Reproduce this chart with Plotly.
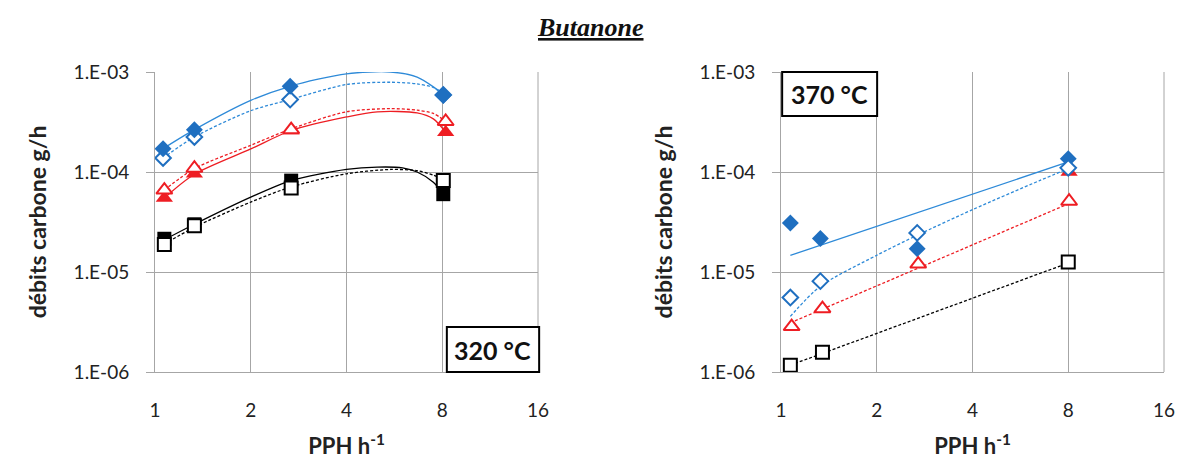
import plotly.graph_objects as go

# ---------------- data : 320 °C (left panel) ----------------
x320_fd = [1.06, 1.33, 2.66, 8.06]
y320_fd = [1.71e-4, 2.65e-4, 7.2e-4, 5.85e-4]          # filled diamond
x320_od = [1.06, 1.33, 2.66, 8.06]
y320_od = [1.38e-4, 2.24e-4, 5.3e-4, 5.9e-4]           # open diamond
x320_ft = [1.07, 1.33, 2.68, 8.2]
y320_ft = [5.5e-5, 9.6e-5, 2.6e-4, 2.5e-4]             # filled triangle
x320_ot = [1.07, 1.33, 2.68, 8.2]
y320_ot = [6.6e-5, 1.09e-4, 2.65e-4, 3.2e-4]           # open triangle
x320_fs = [1.07, 1.33, 2.68, 8.06]
y320_fs = [2.15e-5, 3.0e-5, 8.2e-5, 6.0e-5]            # filled square
x320_os = [1.07, 1.33, 2.68, 8.06]
y320_os = [1.88e-5, 2.9e-5, 6.9e-5, 8.2e-5]            # open square

# trend curves (320 °C)
xc_fd = [1.06, 1.33, 2.0, 2.66, 4.0, 5.5, 6.67, 7.5, 8.06]
yc_fd = [1.71e-4, 2.65e-4, 5.2e-4, 7.2e-4, 9.6e-4, 1.0e-3, 8.9e-4, 7.1e-4, 5.85e-4]
xc_od = [1.06, 1.33, 2.0, 2.66, 4.0, 5.5, 6.67, 7.5, 8.06]
yc_od = [1.38e-4, 2.24e-4, 4.1e-4, 5.3e-4, 7.5e-4, 7.9e-4, 7.6e-4, 7.0e-4, 6.2e-4]
xc_ft = [1.07, 1.33, 2.0, 2.68, 4.0, 5.0, 6.67, 7.5, 8.2]
yc_ft = [5.5e-5, 9.5e-5, 1.7e-4, 2.6e-4, 3.55e-4, 4.0e-4, 3.9e-4, 3.4e-4, 2.5e-4]
xc_ot = [1.07, 1.33, 2.0, 2.68, 4.0, 5.5, 6.67, 7.5, 8.2]
yc_ot = [6.6e-5, 1.08e-4, 1.85e-4, 2.7e-4, 4.0e-4, 4.3e-4, 4.15e-4, 3.85e-4, 3.2e-4]
xc_fs = [1.07, 1.33, 2.0, 2.68, 4.0, 5.0, 6.0, 6.67, 7.5, 8.06]
yc_fs = [2.1e-5, 3.0e-5, 5.6e-5, 8.2e-5, 1.06e-4, 1.12e-4, 1.1e-4, 1.0e-4, 7.9e-5, 6.0e-5]
xc_os = [1.07, 1.33, 2.0, 2.68, 4.0, 5.5, 6.67, 7.5, 8.1]
yc_os = [1.9e-5, 2.8e-5, 5.0e-5, 7.1e-5, 9.6e-5, 1.06e-4, 1.03e-4, 9.3e-5, 8.2e-5]

# ---------------- data : 370 °C (right panel) ----------------
x370_fd = [1.07, 1.33, 2.68, 8.0]
y370_fd = [3.09e-5, 2.16e-5, 1.71e-5, 1.36e-4]
x370_od = [1.07, 1.33, 2.68, 8.0]
y370_od = [5.55e-6, 8.1e-6, 2.46e-5, 1.1e-4]
x370_ft = [8.05]
y370_ft = [1.0e-4]
x370_ot = [1.08, 1.35, 2.7, 8.05]
y370_ot = [2.85e-6, 4.3e-6, 1.2e-5, 5.1e-5]
x370_os = [1.07, 1.35, 8.0]
y370_os = [1.17e-6, 1.58e-6, 1.26e-5]

xl_fd = [1.07, 8.0]
yl_fd = [1.47e-5, 1.26e-4]
xl_od = [1.07, 1.33, 2.0, 2.68, 4.0, 6.5, 8.0]
yl_od = [3.6e-6, 7.2e-6, 1.47e-5, 2.33e-5, 4.2e-5, 8.2e-5, 1.08e-4]
xl_ot = [1.07, 8.0]
yl_ot = [3.1e-6, 4.8e-5]
xl_os = [1.07, 8.0]
yl_os = [1.17e-6, 1.23e-5]

x_ticks = [1, 2, 4, 8, 16]
y_ticks = [1e-6, 1e-5, 1e-4, 1e-3]
y_ticktext = ["1.E-06", "1.E-05", "1.E-04", "1.E-03"]

BLUE_M = "#1F6FC0"
BLUE_L = "#2E8AD8"
RED = "#EE1D23"
BLACK = "#000000"
GRID = "#A6A6A6"
FONT = "Lato"

W, H = 1181, 459

fig = go.Figure()


def curve(xs, ys, color, dashed, xa, ya, smooth=True):
    fig.add_trace(go.Scatter(
        x=xs, y=ys, mode="lines", xaxis=xa, yaxis=ya, showlegend=False,
        line=dict(color=color, width=1.3, dash="3px,2px" if dashed else "solid",
                  shape="spline" if smooth else "linear", smoothing=0.8),
        hoverinfo="skip"))


def marks(xs, ys, symbol, size, color, filled, xa, ya):
    fig.add_trace(go.Scatter(
        x=xs, y=ys, mode="markers", xaxis=xa, yaxis=ya, showlegend=False,
        cliponaxis=False,
        marker=dict(symbol=symbol, size=size,
                    color=color if filled else "white",
                    line=dict(color=color, width=0 if filled else 2))))


# left panel curves
curve(xc_fd, yc_fd, BLUE_L, False, "x", "y")
curve(xc_od, yc_od, BLUE_L, True, "x", "y")
curve(xc_ft, yc_ft, RED, False, "x", "y")
curve(xc_ot, yc_ot, RED, True, "x", "y")
curve(xc_fs, yc_fs, BLACK, False, "x", "y")
curve(xc_os, yc_os, BLACK, True, "x", "y")
# left panel markers
marks(x320_fs, y320_fs, "square", 14, BLACK, True, "x", "y")
marks(x320_os, y320_os, "square", 13, BLACK, False, "x", "y")
marks(x320_ft, y320_ft, "triangle-up", 15, RED, True, "x", "y")
marks(x320_ot, y320_ot, "triangle-up", 14, RED, False, "x", "y")
marks(x320_od, y320_od, "diamond", 12, BLUE_M, False, "x", "y")
marks(x320_fd, y320_fd, "diamond", 13, BLUE_M, True, "x", "y")

# right panel curves
curve(xl_fd, yl_fd, BLUE_L, False, "x2", "y2", smooth=False)
curve(xl_od, yl_od, BLUE_L, True, "x2", "y2")
curve(xl_ot, yl_ot, RED, True, "x2", "y2", smooth=False)
curve(xl_os, yl_os, BLACK, True, "x2", "y2", smooth=False)
# right panel markers
marks(x370_ft, y370_ft, "triangle-up", 15, RED, True, "x2", "y2")
marks(x370_fd, y370_fd, "diamond", 13, BLUE_M, True, "x2", "y2")
marks(x370_od, y370_od, "diamond", 12, BLUE_M, False, "x2", "y2")
marks(x370_ot, y370_ot, "triangle-up", 14, RED, False, "x2", "y2")
marks(x370_os, y370_os, "square", 13, BLACK, False, "x2", "y2")

xaxis_common = dict(
    type="log", range=[0, 1.2041], tickvals=x_ticks, ticktext=[str(v) for v in x_ticks],
    showgrid=True, gridcolor=GRID, gridwidth=1, showline=True, linecolor=GRID,
    linewidth=1, mirror=False, ticks="", zeroline=False, ticklabelstandoff=21,
    automargin=False, ticklabeloverflow="allow",
    tickfont=dict(family=FONT, size=19, color="#222"),
    title=dict(text="<b>PPH h<sup>-1</sup></b>", font=dict(family=FONT, size=22, color="#222"),
               standoff=19),
)
yaxis_common = dict(
    type="log", range=[-6, -3], tickvals=y_ticks, ticktext=y_ticktext,
    showgrid=True, gridcolor=GRID, gridwidth=1, showline=True, linecolor=GRID,
    linewidth=1, ticks="outside", ticklen=8, tickcolor=GRID, zeroline=False,
    ticklabelstandoff=13, automargin=False,
    tickfont=dict(family=FONT, size=19, color="#222"),
    title=dict(text="<b>débits carbone g/h</b>", font=dict(family=FONT, size=23, color="#222"),
               standoff=20),
)

fig.update_layout(
    width=W, height=H,
    margin=dict(l=0, r=0, t=0, b=0, autoexpand=False),
    paper_bgcolor="white", plot_bgcolor="white",
    showlegend=False,
    xaxis=dict(domain=[155 / W, 538 / W], anchor="y", **xaxis_common),
    yaxis=dict(domain=[(H - 372) / H, (H - 72) / H], anchor="x", **yaxis_common),
    xaxis2=dict(domain=[781 / W, 1164 / W], anchor="y2", **xaxis_common),
    yaxis2=dict(domain=[(H - 372) / H, (H - 72) / H], anchor="x2", **yaxis_common),
    shapes=[
        dict(type="line", xref="x domain", yref="y domain", x0=1, x1=1, y0=0, y1=1,
             line=dict(color=GRID, width=1)),
        dict(type="line", xref="x2 domain", yref="y2 domain", x0=1, x1=1, y0=0, y1=1,
             line=dict(color=GRID, width=1)),
        dict(type="rect", xref="x domain", yref="y domain", x0=0.762, x1=1.003, y0=0.0, y1=0.15,
             line=dict(color="black", width=2), fillcolor="white", layer="above"),
        dict(type="rect", xref="x2 domain", yref="y2 domain", x0=0.003, x1=0.251, y0=0.853, y1=1.0,
             line=dict(color="black", width=2), fillcolor="white", layer="above"),
    ],
    annotations=[
        dict(text="<b><i><u>Butanone</u></i></b>", xref="paper", yref="paper",
             x=590 / W, y=1 - 27 / H, showarrow=False, xanchor="center", yanchor="middle",
             font=dict(family="Liberation Serif", size=26, color="#111")),
        dict(text="<b>320 °C</b>", xref="x domain", yref="y domain",
             x=(0.762 + 1.003) / 2, y=0.075, showarrow=False, xanchor="center", yanchor="middle",
             font=dict(family=FONT, size=25, color="#111")),
        dict(text="<b>370 °C</b>", xref="x2 domain", yref="y2 domain",
             x=(0.003 + 0.251) / 2, y=0.9265, showarrow=False, xanchor="center", yanchor="middle",
             font=dict(family=FONT, size=25, color="#111")),
    ],
)

# remove the default page margin so the figure sits at the window's top-left corner
fig.write_html(
    "out.html",
    config={"displayModeBar": False},
    post_script="document.body.style.margin='0px';document.body.style.overflow='hidden';",
)
